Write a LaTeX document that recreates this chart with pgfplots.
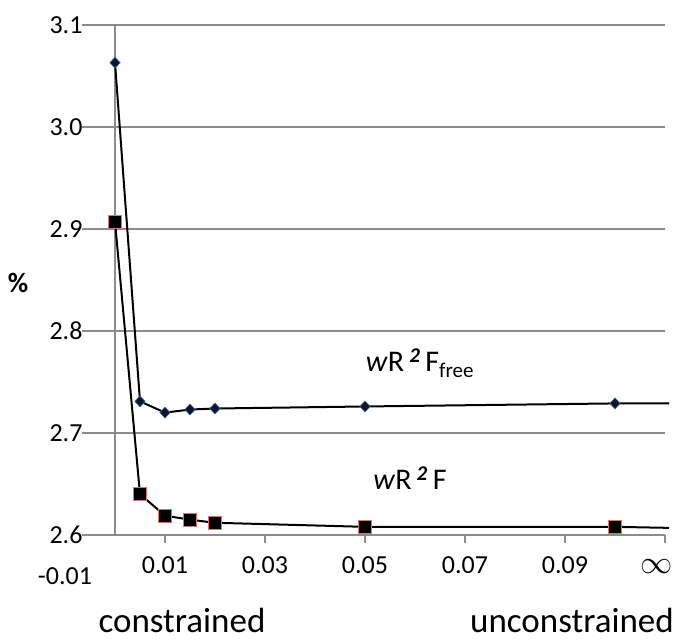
\documentclass[border=0pt]{standalone}
\usepackage{pgfplots}
\pgfplotsset{compat=1.18}
\usepackage{fontspec}
\setmainfont{Carlito}
\definecolor{gridgray}{HTML}{8C8C8C}
\definecolor{sqedge}{HTML}{D8776C}
\definecolor{dmfill}{HTML}{0B1626}
\definecolor{dmedge}{HTML}{3C6FA8}
\newcommand{\tickfont}{\fontsize{26bp}{31bp}\selectfont}

\begin{document}
\begin{tikzpicture}
\useasboundingbox (-90bp,-106bp) rectangle (590bp,535bp);
\begin{axis}[
  at={(0,0)}, anchor=south west,
  scale only axis, width=575bp, height=510bp,
  xmin=-0.005, xmax=0.11, ymin=2.6, ymax=3.1,
  clip=false,
  axis line style={draw=none},
  ymajorgrids=true,
  grid style={gridgray, line width=1.2bp},
  xtick={0.01,0.03,0.05,0.07,0.09,0.11},
  xticklabels={0.01,0.03,0.05,0.07,0.09,{\scalebox{1.3}{$\infty$}\hspace*{16bp}}},
  extra x ticks={0},
  extra x tick labels={},
  extra x tick style={grid=major, major tick length=0pt},
  ytick={2.6,2.7,2.8,2.9,3.0,3.1},
  xtick pos=left,
  tick align=outside,
  major tick length=8bp,
  xtick style={gridgray, line width=1.2bp},
  ytick style={draw=none},
  /pgf/number format/assume math mode=true,
  yticklabel style={font=\tickfont, /pgf/number format/fixed,
    /pgf/number format/fixed zerofill, /pgf/number format/precision=1,
    xshift=4bp},
  xticklabel style={font=\tickfont, anchor=base, yshift=-30bp},
]
% grid lines reach a little under the y labels, as in the source
\pgfplotsinvokeforeach{2.6,2.7,2.8,2.9,3.0,3.1}{
  \draw[gridgray, line width=1.2bp] (axis cs:-0.0066,#1) -- (axis cs:-0.005,#1);
}
\addplot[black, line width=2bp, mark=diamond*, mark size=5.5bp,
  mark options={fill=dmfill, draw=dmedge, line width=0.6bp, xscale=1.25},
  mark indices={1,...,7}]
  coordinates {(0,3.063)(0.005,2.731)(0.01,2.720)(0.015,2.723)(0.02,2.724)
               (0.05,2.726)(0.1,2.729)(0.1108,2.729)};
\addplot[black, line width=2bp, mark=square*, mark size=6.5bp,
  mark options={fill=black, draw=sqedge, line width=1bp},
  mark indices={1,...,7}]
  coordinates {(0,2.907)(0.005,2.640)(0.01,2.619)(0.015,2.615)(0.02,2.612)
               (0.05,2.608)(0.1,2.608)(0.1108,2.607)};
\node[font=\fontsize{30bp}{36bp}\selectfont] at (axis cs:0.061,2.7686)
  {\textit{w}R\,\textsuperscript{\textbf{\textit{2}}}\,F\textsubscript{free}};
\node[font=\fontsize{30bp}{36bp}\selectfont] at (axis cs:0.059,2.656)
  {\textit{w}R\,\textsuperscript{\textbf{\textit{2}}}\,F};
\node[font=\bfseries\fontsize{28bp}{32bp}\selectfont] at (axis cs:-0.0194,2.847) {\%};
\node[font=\tickfont, anchor=base] at (axis cs:-0.01,2.551) {-0.01};
\node[font=\fontsize{35bp}{40bp}\selectfont] at (axis cs:0.0134,2.516) {constrained};
\node[font=\fontsize{35bp}{40bp}\selectfont] at (axis cs:0.0914,2.516) {unconstrained};
\end{axis}
\end{tikzpicture}
\end{document}
